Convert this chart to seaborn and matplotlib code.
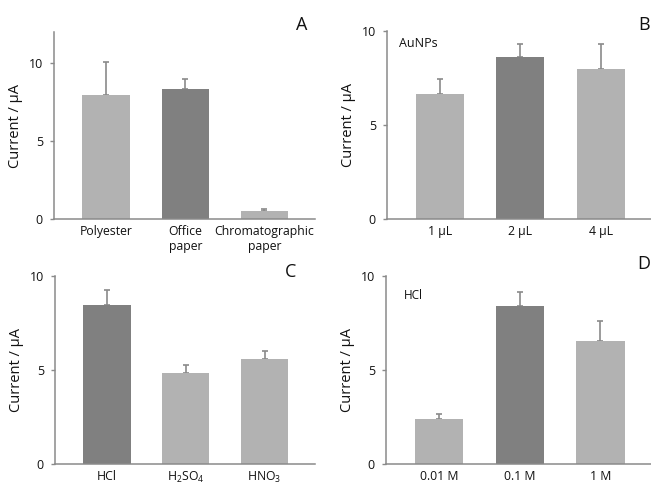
import numpy as np
import pandas as pd
import matplotlib
matplotlib.use("Agg")
import matplotlib.pyplot as plt
import seaborn as sns

sns.set_theme(style="white")
plt.rcParams["font.family"] = ["Open Sans", "DejaVu Sans"]
plt.rcParams["mathtext.fontset"] = "custom"
plt.rcParams["mathtext.rm"] = "Open Sans"

LIGHT = "#b2b2b2"
DARK = "#808080"
AXIS = "#8a8a8a"
TEXT = "#111111"

# panel A: substrate
a_labels = ["Polyester", "Office\npaper", "Chromatographic\npaper"]
a_values = [7.95, 8.32, 0.50]
a_err = [2.11, 0.64, 0.14]
a_colors = [LIGHT, DARK, LIGHT]

# panel B: AuNPs volume
b_labels = ["1 µL", "2 µL", "4 µL"]
b_values = [6.64, 8.64, 7.97]
b_err = [0.79, 0.65, 1.32]
b_colors = [LIGHT, DARK, LIGHT]

# panel C: acid
c_labels = ["HCl", "H$_2$SO$_4$", "HNO$_3$"]
c_values = [8.44, 4.83, 5.61]
c_err = [0.84, 0.43, 0.41]
c_colors = [DARK, LIGHT, LIGHT]

# panel D: HCl concentration
d_labels = ["0.01 M", "0.1 M", "1 M"]
d_values = [2.38, 8.40, 6.56]
d_err = [0.26, 0.73, 1.03]
d_colors = [LIGHT, DARK, LIGHT]

W, H = 651, 484
fig = plt.figure(figsize=(W / 100, H / 100), dpi=100)


def px_axes(left, top, right, bottom):
    return fig.add_axes([left / W, 1 - bottom / H, (right - left) / W, (bottom - top) / H])


def panel(ax, labels, values, err, colors, ymax):
    df = pd.DataFrame({"cat": labels, "val": values})
    sns.barplot(data=df, x="cat", y="val", hue="cat", palette=colors,
                width=0.6, ax=ax, legend=False, saturation=1, edgecolor="none")
    x = np.arange(len(values))
    ax.errorbar(x, values, yerr=[np.zeros(len(err)), err], fmt="none",
                ecolor=AXIS, elinewidth=1.2, capsize=2.5, capthick=1.2, zorder=1)
    for p in ax.patches:
        p.set_zorder(2)
    ax.set_xlim(-0.66, 2.64)
    ax.set_ylim(0, ymax)
    ax.set_yticks([0, 5, 10])
    ax.set_xlabel("")
    ax.set_ylabel("Current / µA", fontsize=10.5, color=TEXT, labelpad=4)
    ax.tick_params(axis="y", length=3, width=1, color=AXIS, labelsize=9,
                   labelcolor=TEXT, pad=5, left=True)
    ax.tick_params(axis="x", length=0, labelsize=8.8, labelcolor=TEXT, pad=4)
    sns.despine(ax=ax)
    for s in ["left", "bottom"]:
        ax.spines[s].set_color(AXIS)
        ax.spines[s].set_linewidth(1.1)


axA = px_axes(54, 32, 315, 219)
panel(axA, a_labels, a_values, a_err, a_colors, 12)
fig.text(302 / W, 1 - 25 / H, "A", fontsize=13, ha="center", va="center", color=TEXT)

axB = px_axes(387, 31, 652, 219)
panel(axB, b_labels, b_values, b_err, b_colors, 10)
axB.text(0.045, 0.936, "AuNPs", transform=axB.transAxes, fontsize=9,
         ha="left", va="center", color=TEXT)
fig.text(644 / W, 1 - 25 / H, "B", fontsize=13, ha="center", va="center", color=TEXT)

axC = px_axes(55, 276, 315, 464)
panel(axC, c_labels, c_values, c_err, c_colors, 10)
fig.text(291 / W, 1 - 272 / H, "C", fontsize=13, ha="center", va="center", color=TEXT)

axD = px_axes(386, 276, 652, 464)
panel(axD, d_labels, d_values, d_err, d_colors, 10)
axD.text(0.068, 0.894, "HCl", transform=axD.transAxes, fontsize=8.5,
         ha="left", va="center", color=TEXT)
fig.text(644 / W, 1 - 264 / H, "D", fontsize=13, ha="center", va="center", color=TEXT)

fig.savefig("out.png", dpi=100)
